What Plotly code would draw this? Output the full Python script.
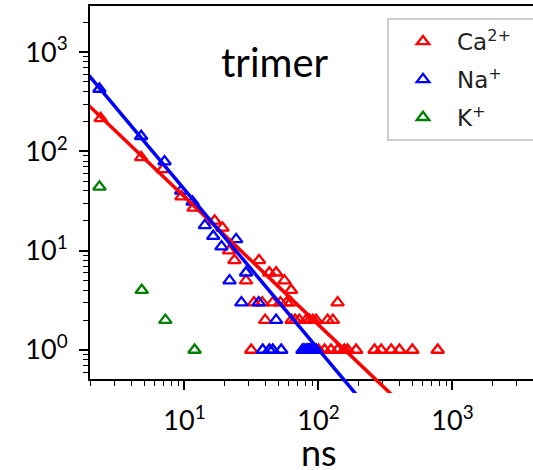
import plotly.graph_objects as go

# ---- data ----
ca_x = [2.37, 4.75, 6.9, 9.5, 11.7, 16.8, 19.2, 21.5, 23.6, 28.8, 36, 43, 48.3, 55.7, 62.5,
        33, 38, 45.6, 52, 58, 62, 139,
        40, 63, 67, 72, 81, 86, 91, 96, 117, 128,
        31.5, 77, 82, 100, 111, 124, 139, 156, 165, 191, 262, 294, 349, 402, 502, 776]
ca_y = [215, 87, 66, 35, 27, 20, 17, 10, 8, 5, 8, 6, 6, 5, 4,
        3, 3, 3, 3, 3, 3, 3,
        2, 2, 2, 2, 2, 2, 2, 2, 2, 2,
        1, 1, 1, 1, 1, 1, 1, 1, 1, 1, 1, 1, 1, 1, 1, 1]

na_x = [2.32, 4.75, 7.1, 9.45, 11.5, 14.2, 16.4, 18.9, 24.3, 21.7, 28.8, 26.6, 35.8, 48.3,
        38.4, 43, 45.6, 52.7, 76, 79, 82, 84, 86, 88, 90, 93, 96]
na_y = [425, 142, 79, 40, 31, 18, 14, 11, 13, 5, 6, 3, 3, 2,
        1, 1, 1, 1, 1, 1, 1, 1, 1, 1, 1, 1, 1]

k_x = [2.32, 4.8, 7.2, 11.9]
k_y = [44, 4, 2, 1]

# power-law fit lines (end points)
ca_fit_x = [1.9, 400]
ca_fit_y = [296, 0.301]
na_fit_x = [1.9, 250]
na_fit_y = [600, 0.232]

# tick labels
x_tickvals = [10, 100, 1000]
x_ticktext = ["10<sup>1</sup>", "10<sup>2</sup>", "10<sup>3</sup>"]
y_tickvals = [1, 10, 100, 1000]
y_ticktext = ["10<sup>0</sup>", "10<sup>1</sup>", "10<sup>2</sup>", "10<sup>3</sup>"]
minor_vals = [m * 10 ** d for d in range(-1, 4) for m in range(2, 10)]

names = ["Ca<sup>2+</sup>", "Na<sup>+</sup>", "K<sup>+</sup>"]
colors = ["#ff0000", "#0000ff", "#008000"]

W, H = 533, 470
ML, MR, MT, MB = 90, 0, 6, 77
PW = W - ML - MR
PH = H - MT - MB
ax_bottom_px = 379

XR = [0.295, 0.295 + PW / 134.0]
Y1R = [-0.292, 3.464]
y1_dom0 = (MT + PH - ax_bottom_px) / PH
Y2R = [Y1R[0] - (Y1R[1] - Y1R[0]) * y1_dom0 / (1 - y1_dom0), Y1R[1]]

pad = "\u00a0" * 10  # legend frame runs past the right edge in the reference

fig = go.Figure()
for xs, ys, nm, c in [(ca_x, ca_y, names[0], colors[0]),
                      (na_x, na_y, names[1], colors[1]),
                      (k_x, k_y, names[2], colors[2])]:
    fig.add_trace(go.Scatter(
        x=xs, y=ys, mode="markers", name=nm + pad, legendgroup=nm,
        marker=dict(symbol="triangle-up-open", size=11, color=c, line=dict(width=2.3, color=c)),
        xaxis="x", yaxis="y", cliponaxis=False))

for xs, ys, c in [(ca_fit_x, ca_fit_y, colors[0]), (na_fit_x, na_fit_y, colors[1])]:
    fig.add_trace(go.Scatter(x=xs, y=ys, mode="lines", line=dict(color=c, width=3.5),
                             showlegend=False, xaxis="x2", yaxis="y2", hoverinfo="skip"))

tickfont = dict(family="Lato", size=27, color="black")
minor = dict(ticks="outside", ticklen=5, tickwidth=1.3, tickcolor="black",
             tickmode="array", tickvals=minor_vals, showgrid=False)
fig.update_layout(
    width=W, height=H,
    margin=dict(l=ML, r=MR, t=MT, b=MB, autoexpand=False),
    paper_bgcolor="white", plot_bgcolor="rgba(0,0,0,0)",
    showlegend=True,
    xaxis=dict(type="log", range=XR, domain=[0, 1], anchor="y", automargin=False,
               showgrid=False, zeroline=False,
               showline=True, linecolor="black", linewidth=2, mirror=True,
               ticks="outside", ticklen=9, tickwidth=2, tickcolor="black",
               tickmode="array", tickvals=x_tickvals, ticktext=x_ticktext,
               tickfont=tickfont, ticklabelstandoff=8, minor=minor),
    yaxis=dict(type="log", range=Y1R, domain=[y1_dom0, 1], anchor="x", automargin=False,
               showgrid=False, zeroline=False,
               showline=True, linecolor="black", linewidth=2, mirror=False,
               ticks="outside", ticklen=9, tickwidth=2, tickcolor="black",
               tickmode="array", tickvals=y_tickvals, ticktext=y_ticktext,
               tickfont=tickfont, ticklabelstandoff=6, minor=minor),
    xaxis2=dict(type="log", range=XR, domain=[0, 1], anchor="y2", visible=False),
    yaxis2=dict(type="log", range=Y2R, domain=[0, 1], anchor="x2", visible=False),
    legend=dict(x=(387 - ML) / PW, y=(MT + PH - 18) / PH, xanchor="left", yanchor="top",
                bgcolor="white", bordercolor="#cccccc", borderwidth=2,
                font=dict(family="DejaVu Sans", size=23, color="#222222"),
                tracegroupgap=5, itemwidth=58),
    annotations=[
        dict(text="trimer", x=(275 - ML) / PW, y=(MT + PH - 62) / PH, xref="paper", yref="paper",
             xanchor="center", yanchor="middle", showarrow=False,
             font=dict(family="Lato", size=40, color="black")),
        dict(text="ns", x=(319 - ML) / PW, y=(MT + PH - 452) / PH, xref="paper", yref="paper",
             xanchor="center", yanchor="middle", showarrow=False,
             font=dict(family="Lato", size=36, color="black")),
    ],
)

fig.write_html("out.html")
